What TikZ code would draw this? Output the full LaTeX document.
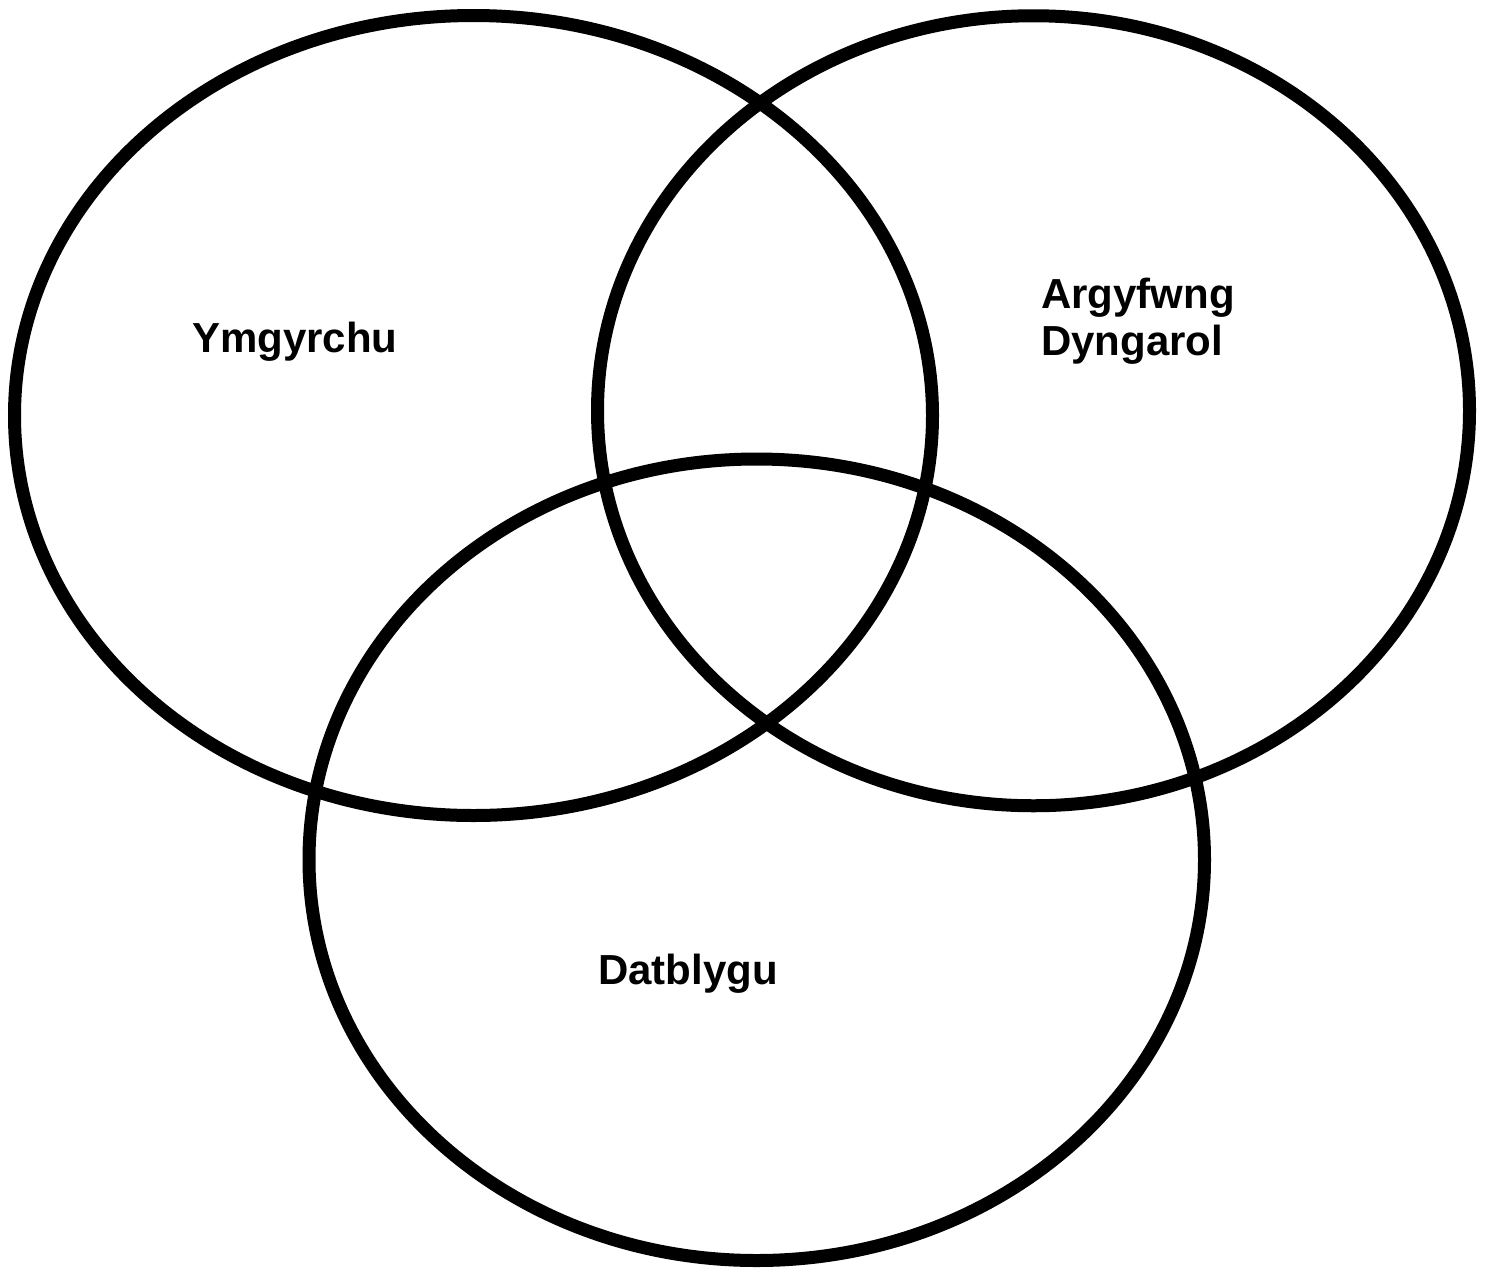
\documentclass[tikz,border=0pt]{standalone}
\usepackage{fontspec}
\setmainfont{Liberation Sans}
\begin{document}
\begin{tikzpicture}[x=1pt,y=-1pt,
  ring/.style={draw=black,line width=13pt},
  lbl/.style={inner sep=0pt,anchor=base west,align=left,font=\bfseries\fontsize{42}{47}\selectfont}]
\useasboundingbox (0,0) rectangle (1488,1267);
\fill[white] (0,0) rectangle (1488,1267);
\draw[ring] (473.5,415.5) ellipse [x radius=459, y radius=400];
\draw[ring] (1033.5,410.75) ellipse [x radius=436, y radius=395];
\draw[ring] (756.75,859.75) ellipse [x radius=447.75, y radius=400.75];
\node[lbl] (ymg) at (192,352) {Ymgyrchu};
\node[lbl] (arg) at (1041,308) {Argyfwng};
\node[lbl] (dyn) at (1041,355) {Dyngarol};
\node[lbl] (dat) at (598,984) {Datblygu};
\end{tikzpicture}
\end{document}
